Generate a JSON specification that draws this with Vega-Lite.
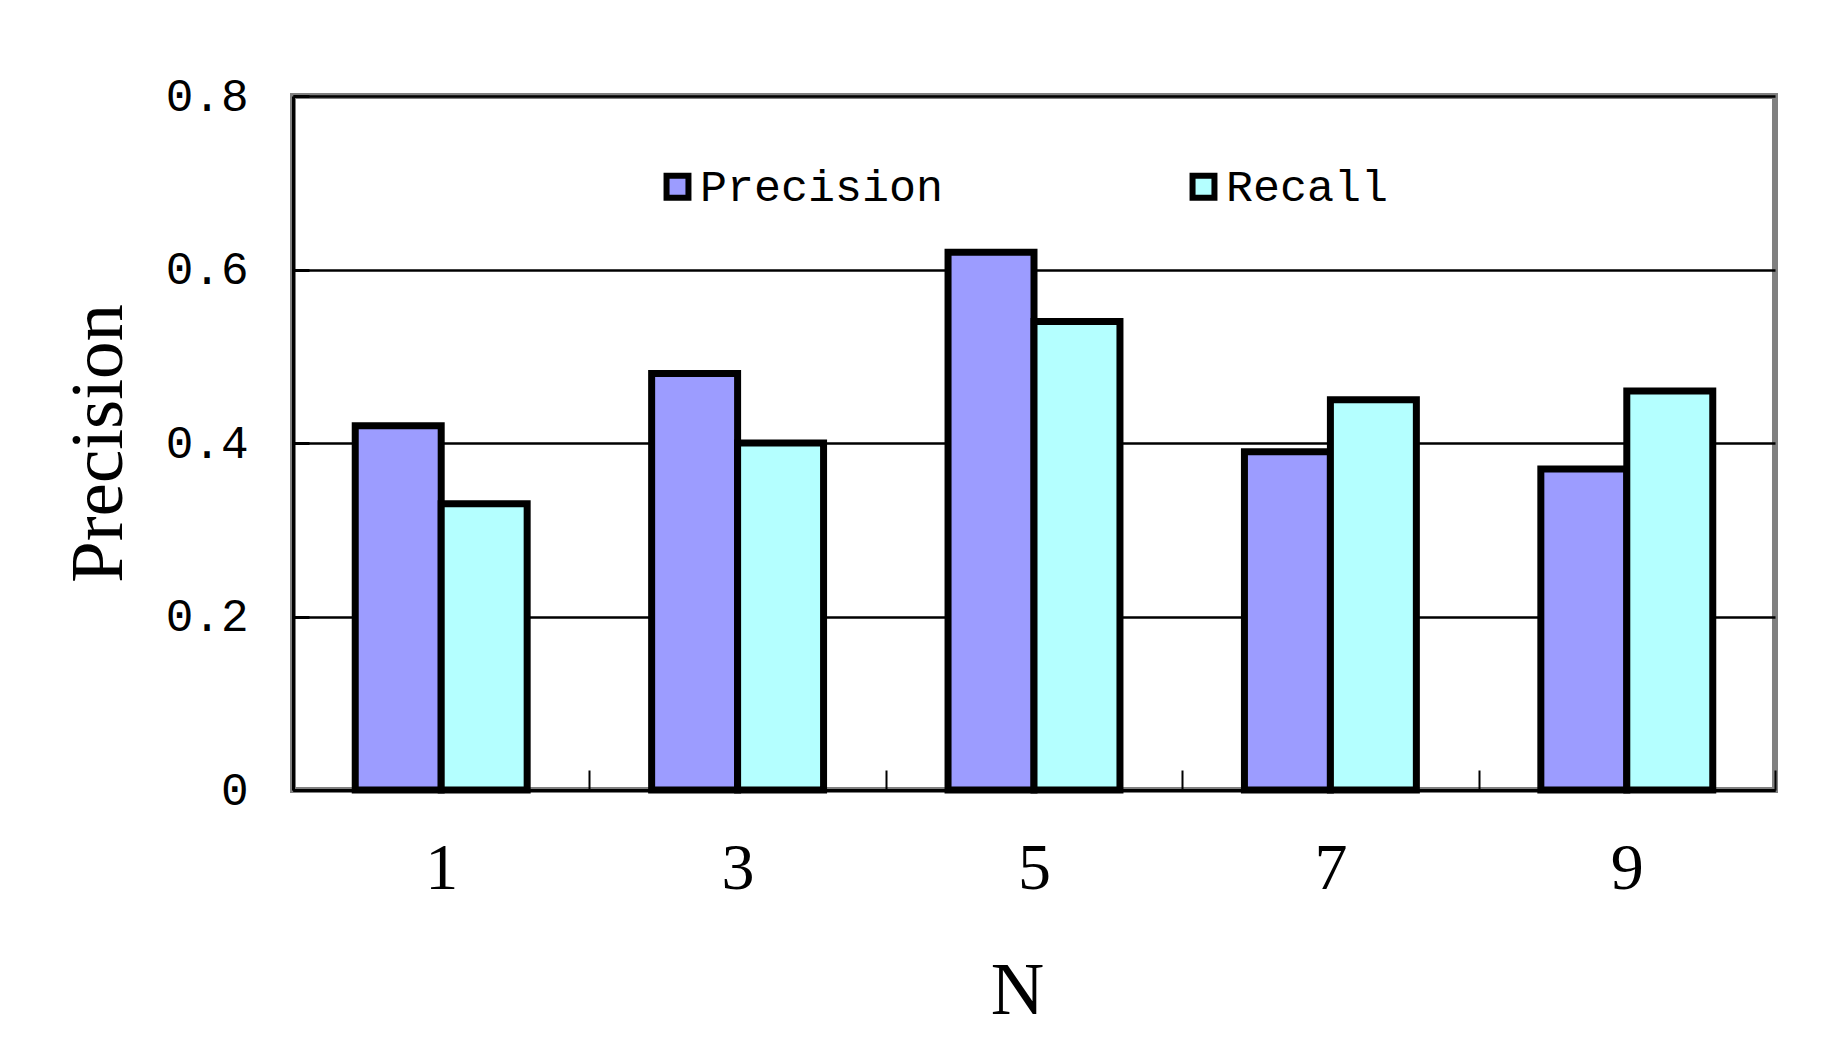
{
  "$schema": "https://vega.github.io/schema/vega-lite/v6.json",
  "width": 1482,
  "height": 694,
  "autosize": {"type": "none"},
  "padding": {"left": 293, "top": 96, "right": 48, "bottom": 260},
  "background": "white",
  "data": {
    "values": [
      {"N": "1", "series": "Precision", "value": 0.42},
      {"N": "1", "series": "Recall", "value": 0.33},
      {"N": "3", "series": "Precision", "value": 0.48},
      {"N": "3", "series": "Recall", "value": 0.40},
      {"N": "5", "series": "Precision", "value": 0.62},
      {"N": "5", "series": "Recall", "value": 0.54},
      {"N": "7", "series": "Precision", "value": 0.39},
      {"N": "7", "series": "Recall", "value": 0.45},
      {"N": "9", "series": "Precision", "value": 0.37},
      {"N": "9", "series": "Recall", "value": 0.46}
    ]
  },
  "mark": {"type": "bar", "stroke": "black", "strokeWidth": 7, "strokeJoin": "miter"},
  "encoding": {
    "x": {
      "field": "N",
      "type": "nominal",
      "sort": ["1", "3", "5", "7", "9"],
      "scale": {"paddingInner": 0, "paddingOuter": 0},
      "axis": {
        "title": "N",
        "titleFont": "Liberation Serif",
        "titleFontSize": 74,
        "titleFontWeight": "normal",
        "titleColor": "black",
        "titlePadding": 54,
        "titleX": 724,
        "labelFont": "Liberation Serif",
        "labelFontSize": 66,
        "labelColor": "black",
        "labelAngle": 0,
        "labelPadding": 66,
        "tickBand": "extent",
        "ticks": true,
        "tickSize": -20,
        "tickColor": "black",
        "tickWidth": 2,
        "domain": true,
        "domainColor": "black",
        "domainWidth": 3,
        "grid": false
      }
    },
    "xOffset": {
      "field": "series",
      "type": "nominal",
      "sort": ["Precision", "Recall"],
      "scale": {"paddingInner": 0, "paddingOuter": 0.724}
    },
    "y": {
      "field": "value",
      "type": "quantitative",
      "scale": {"domain": [0, 0.8], "nice": false, "zero": true},
      "axis": {
        "title": "Precision",
        "titleFont": "Liberation Serif",
        "titleFontSize": 75,
        "titleFontWeight": "normal",
        "titleColor": "black",
        "titlePadding": 28,
        "values": [0, 0.2, 0.4, 0.6, 0.8],
        "labelExpr": "datum.value == 0 ? '0' : format(datum.value, '.1f')",
        "labelFont": "Liberation Mono",
        "labelFontSize": 46,
        "labelColor": "black",
        "labelPadding": 61,
        "ticks": true,
        "tickSize": -16,
        "tickColor": "black",
        "tickWidth": 3,
        "domain": true,
        "domainColor": "black",
        "domainWidth": 3,
        "grid": true,
        "gridColor": "black",
        "gridWidth": 2.5,
        "gridOpacity": 1
      }
    },
    "color": {
      "field": "series",
      "type": "nominal",
      "scale": {"domain": ["Precision", "Recall"], "range": ["#9C9CFF", "#B4FFFF"]},
      "legend": {
        "title": null,
        "orient": "none",
        "direction": "horizontal",
        "legendX": 362,
        "legendY": 68,
        "symbolType": "square",
        "symbolSize": 480,
        "symbolStrokeColor": "black",
        "symbolStrokeWidth": 6,
        "symbolOpacity": 1,
        "labelFont": "Liberation Mono",
        "labelFontSize": 45,
        "labelColor": "black",
        "labelOffset": 0,
        "columnPadding": 236,
        "labelLimit": 400
      }
    }
  },
  "config": {
    "view": {"stroke": "#808080", "strokeWidth": 6}
  }
}
